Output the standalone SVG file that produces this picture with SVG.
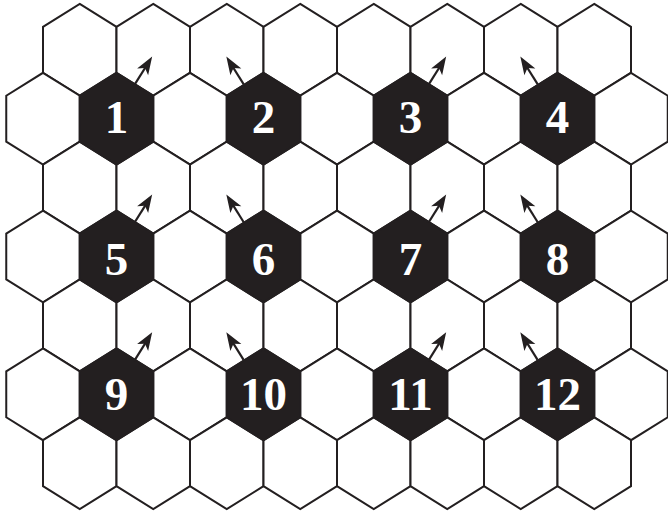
<svg xmlns="http://www.w3.org/2000/svg" xmlns:xlink="http://www.w3.org/1999/xlink" width="668" height="512" viewBox="0 0 668 512">
<style>
.w{fill:#ffffff;stroke:#231f20;stroke-width:2;stroke-linejoin:miter}
.b{fill:#231f20;stroke:#231f20;stroke-width:2;stroke-linejoin:miter}
.t{fill:#ffffff;font-family:"Liberation Serif","Times New Roman",serif;font-weight:bold;font-size:47px;text-anchor:middle}
.a{stroke:#231f20;stroke-width:2.2;fill:none}
</style>
<defs>
<path id="hx" d="M0,-45.9 L36.75,-22.95 L36.75,22.95 L0,45.9 L-36.75,22.95 L-36.75,-22.95 Z"/>
<marker id="ah" markerUnits="userSpaceOnUse" viewBox="-9 -8 21 16" refX="0" refY="0" markerWidth="21" markerHeight="16" orient="auto">
<path d="M10.5,0 L-7.5,-6.5 L-3,0 L-7.5,6.5 Z" fill="#231f20"/>
</marker>
</defs>
<rect width="668" height="512" fill="#ffffff"/>
<g id="grid">
<g id="r0">
<use href="#hx" class="w" x="79.75" y="49.8"/><use href="#hx" class="w" x="153.25" y="49.8"/><use href="#hx" class="w" x="226.75" y="49.8"/><use href="#hx" class="w" x="300.25" y="49.8"/><use href="#hx" class="w" x="373.75" y="49.8"/><use href="#hx" class="w" x="447.25" y="49.8"/><use href="#hx" class="w" x="520.75" y="49.8"/><use href="#hx" class="w" x="594.25" y="49.8"/>
</g>
<g id="r1">
<use href="#hx" class="w" x="43" y="118.7"/><use href="#hx" class="w" x="190" y="118.7"/><use href="#hx" class="w" x="337" y="118.7"/><use href="#hx" class="w" x="484" y="118.7"/><use href="#hx" class="w" x="631" y="118.7"/>
</g>
<g id="r2">
<use href="#hx" class="w" x="79.75" y="187.6"/><use href="#hx" class="w" x="153.25" y="187.6"/><use href="#hx" class="w" x="226.75" y="187.6"/><use href="#hx" class="w" x="300.25" y="187.6"/><use href="#hx" class="w" x="373.75" y="187.6"/><use href="#hx" class="w" x="447.25" y="187.6"/><use href="#hx" class="w" x="520.75" y="187.6"/><use href="#hx" class="w" x="594.25" y="187.6"/>
</g>
<g id="r3">
<use href="#hx" class="w" x="43" y="256.5"/><use href="#hx" class="w" x="190" y="256.5"/><use href="#hx" class="w" x="337" y="256.5"/><use href="#hx" class="w" x="484" y="256.5"/><use href="#hx" class="w" x="631" y="256.5"/>
</g>
<g id="r4">
<use href="#hx" class="w" x="79.75" y="325.4"/><use href="#hx" class="w" x="153.25" y="325.4"/><use href="#hx" class="w" x="226.75" y="325.4"/><use href="#hx" class="w" x="300.25" y="325.4"/><use href="#hx" class="w" x="373.75" y="325.4"/><use href="#hx" class="w" x="447.25" y="325.4"/><use href="#hx" class="w" x="520.75" y="325.4"/><use href="#hx" class="w" x="594.25" y="325.4"/>
</g>
<g id="r5">
<use href="#hx" class="w" x="43" y="394.3"/><use href="#hx" class="w" x="190" y="394.3"/><use href="#hx" class="w" x="337" y="394.3"/><use href="#hx" class="w" x="484" y="394.3"/><use href="#hx" class="w" x="631" y="394.3"/>
</g>
<g id="r6">
<use href="#hx" class="w" x="79.75" y="463.2"/><use href="#hx" class="w" x="153.25" y="463.2"/><use href="#hx" class="w" x="226.75" y="463.2"/><use href="#hx" class="w" x="300.25" y="463.2"/><use href="#hx" class="w" x="373.75" y="463.2"/><use href="#hx" class="w" x="447.25" y="463.2"/><use href="#hx" class="w" x="520.75" y="463.2"/><use href="#hx" class="w" x="594.25" y="463.2"/>
</g>
</g>
<g id="n1"><use href="#hx" class="b" x="116.5" y="118.7"/><text class="t" x="116.5" y="133">1</text></g>
<g id="n2"><use href="#hx" class="b" x="263.5" y="118.7"/><text class="t" x="263.5" y="133">2</text></g>
<g id="n3"><use href="#hx" class="b" x="410.5" y="118.7"/><text class="t" x="410.5" y="133">3</text></g>
<g id="n4"><use href="#hx" class="b" x="557.5" y="118.7"/><text class="t" x="557.5" y="133">4</text></g>
<g id="n5"><use href="#hx" class="b" x="116.5" y="256.5"/><text class="t" x="116.5" y="274.5">5</text></g>
<g id="n6"><use href="#hx" class="b" x="263.5" y="256.5"/><text class="t" x="263.5" y="274.5">6</text></g>
<g id="n7"><use href="#hx" class="b" x="410.5" y="256.5"/><text class="t" x="410.5" y="274.5">7</text></g>
<g id="n8"><use href="#hx" class="b" x="557.5" y="256.5"/><text class="t" x="557.5" y="274.5">8</text></g>
<g id="n9"><use href="#hx" class="b" x="116.5" y="394.3"/><text class="t" x="116.5" y="410">9</text></g>
<g id="n10"><use href="#hx" class="b" x="263.5" y="394.3"/><text class="t" x="263.5" y="410">10</text></g>
<g id="n11"><use href="#hx" class="b" x="410.5" y="394.3"/><text class="t" x="410.5" y="410">11</text></g>
<g id="n12"><use href="#hx" class="b" x="557.5" y="394.3"/><text class="t" x="557.5" y="410">12</text></g>
<g id="connectors" class="a" marker-end="url(#ah)">
<line x1="134.9" y1="84.2" x2="146.6" y2="65.5"/>
<line x1="243.6" y1="84.2" x2="231.9" y2="65.5"/>
<line x1="428.9" y1="84.2" x2="440.6" y2="65.5"/>
<line x1="537.6" y1="84.2" x2="525.9" y2="65.5"/>
<line x1="134.9" y1="222" x2="146.6" y2="203.3"/>
<line x1="243.6" y1="222" x2="231.9" y2="203.3"/>
<line x1="428.9" y1="222" x2="440.6" y2="203.3"/>
<line x1="537.6" y1="222" x2="525.9" y2="203.3"/>
<line x1="134.9" y1="359.8" x2="146.6" y2="341.1"/>
<line x1="243.6" y1="359.8" x2="231.9" y2="341.1"/>
<line x1="428.9" y1="359.8" x2="440.6" y2="341.1"/>
<line x1="537.6" y1="359.8" x2="525.9" y2="341.1"/>
</g>
</svg>
